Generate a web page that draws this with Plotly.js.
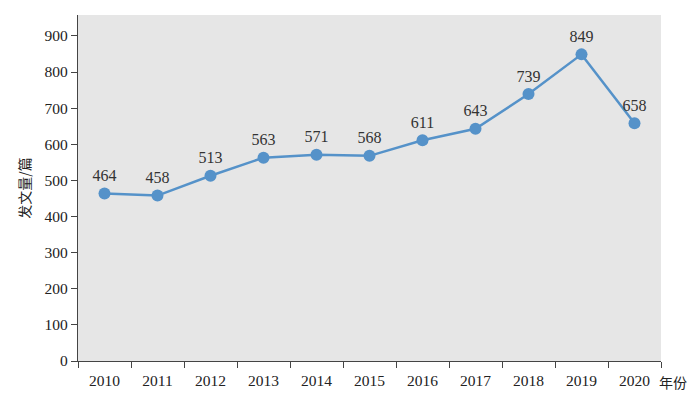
<!DOCTYPE html>
<html>
<head>
<meta charset="utf-8">
<script src="https://cdn.plot.ly/plotly-3.0.1.min.js"></script>
<style>html,body{margin:0;padding:0;background:#fff;}#chart{width:700px;height:399px;}</style>
</head>
<body>
<div id="chart"></div>
<script>
const years = ["2010","2011","2012","2013","2014","2015","2016","2017","2018","2019","2020"];
const counts = [464, 458, 513, 563, 571, 568, 611, 643, 739, 849, 658];
const yTitle = "发文量/篇";
const xTitle = "年份";

const serif = "Liberation Serif, Times New Roman, serif";
const trace = {
  x: years,
  y: counts,
  type: "scatter",
  mode: "lines+markers+text",
  text: counts.map(String),
  textposition: "top center",
  textfont: {family: serif, size: 16, color: "#333"},
  line: {color: "#5592c9", width: 2.5},
  marker: {color: "#5592c9", size: 12},
  cliponaxis: false,
  hoverinfo: "skip"
};

const layout = {
  width: 700, height: 399,
  margin: {l: 78, r: 39, t: 15, b: 38},
  paper_bgcolor: "#fff",
  plot_bgcolor: "#e6e6e6",
  showlegend: false,
  font: {family: serif, size: 15, color: "#333"},
  xaxis: {
    type: "category",
    tickson: "boundaries",
    ticks: "outside", ticklen: 6, tickcolor: "#444", tickwidth: 1,
    showline: true, linecolor: "#444", linewidth: 1.2,
    showgrid: false, zeroline: false,
    ticklabelstandoff: 5,
    tickfont: {family: serif, size: 15.5, color: "#222"},
    range: [-0.5, 10.5]
  },
  yaxis: {
    range: [0, 958],
    tickvals: [0,100,200,300,400,500,600,700,800,900],
    ticks: "outside", ticklen: 6, tickcolor: "#444", tickwidth: 1,
    showline: true, linecolor: "#444", linewidth: 1.2,
    showgrid: false, zeroline: false,
    tickfont: {family: serif, size: 15.5, color: "#222"},
    title: {text: yTitle, font: {family: "Noto Sans CJK SC", size: 14, color: "#222"}, standoff: 10}
  },
  annotations: [{
    text: xTitle, xref: "paper", yref: "paper", x: 1.0, y: 0,
    xanchor: "left", yanchor: "middle", xshift: -4, yshift: -21,
    showarrow: false, font: {family: "Noto Sans CJK SC", size: 14, color: "#222"}
  }]
};

Plotly.newPlot("chart", [trace], layout, {displayModeBar: false, staticPlot: true});
</script>
</body>
</html>
